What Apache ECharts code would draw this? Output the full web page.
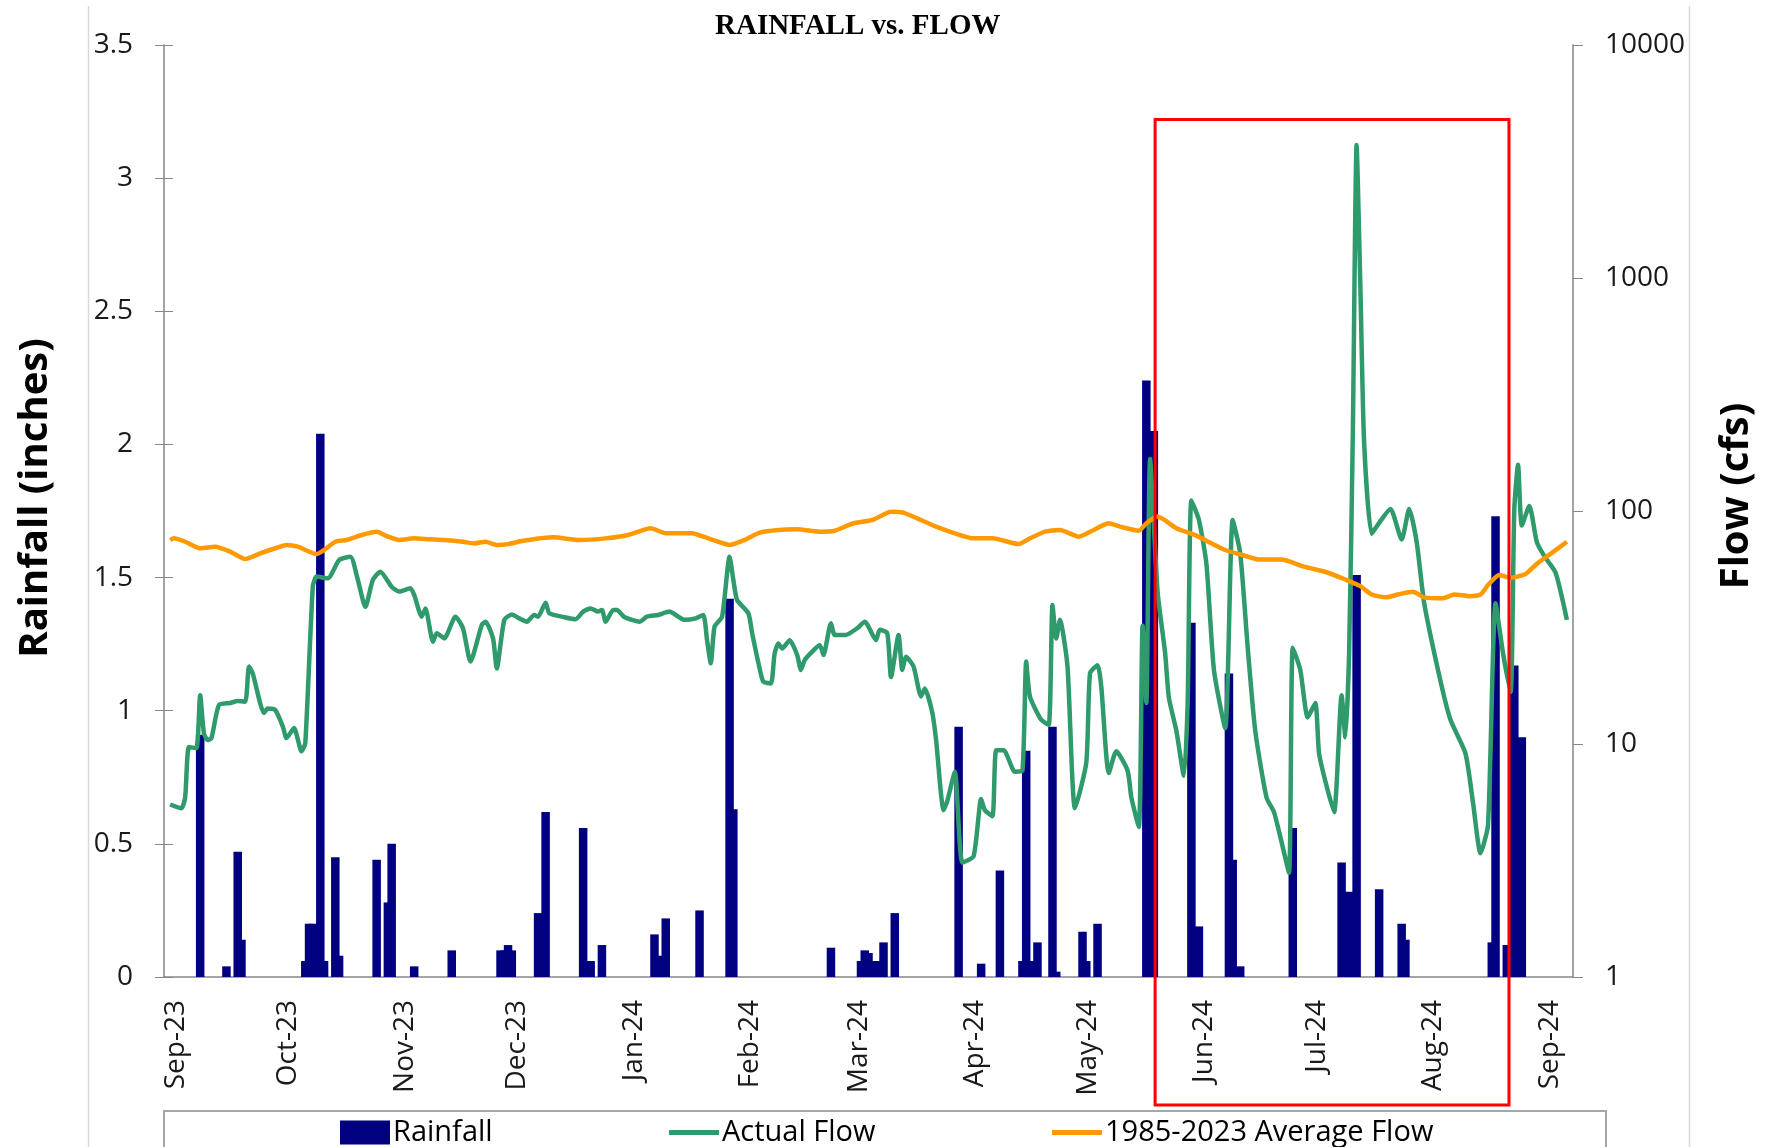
<!DOCTYPE html>
<html>
<head>
<meta charset="utf-8">
<title>Rainfall vs. Flow</title>
<script src="https://cdn.jsdelivr.net/npm/echarts@6/dist/echarts.min.js"></script>
<style>
  html, body { margin: 0; padding: 0; background: #fff; }
  #main { width: 1774px; height: 1147px; }
</style>
</head>
<body>
<div id="main"></div>
<script>
// daily rainfall (inches), only the days with rain
const rainfall = [
    ['2023-09-09', 0.91], ['2023-09-16', 0.04], ['2023-09-19', 0.47], ['2023-09-20', 0.14],
    ['2023-10-07', 0.06], ['2023-10-08', 0.20], ['2023-10-09', 0.20], ['2023-10-11', 2.04],
    ['2023-10-12', 0.06], ['2023-10-15', 0.45], ['2023-10-16', 0.08], ['2023-10-26', 0.44],
    ['2023-10-29', 0.28], ['2023-10-30', 0.50], ['2023-11-05', 0.04], ['2023-11-15', 0.10],
    ['2023-11-28', 0.10], ['2023-11-29', 0.10], ['2023-11-30', 0.12], ['2023-12-01', 0.10],
    ['2023-12-08', 0.24], ['2023-12-10', 0.62], ['2023-12-20', 0.56], ['2023-12-22', 0.06],
    ['2023-12-25', 0.12], ['2024-01-08', 0.16], ['2024-01-10', 0.08], ['2024-01-11', 0.22],
    ['2024-01-20', 0.25], ['2024-01-28', 1.42], ['2024-01-29', 0.63], ['2024-02-24', 0.11],
    ['2024-03-03', 0.06], ['2024-03-04', 0.10], ['2024-03-05', 0.09], ['2024-03-06', 0.06],
    ['2024-03-08', 0.06], ['2024-03-09', 0.13], ['2024-03-12', 0.24], ['2024-03-29', 0.94],
    ['2024-04-04', 0.05], ['2024-04-09', 0.40], ['2024-04-15', 0.06], ['2024-04-16', 0.85],
    ['2024-04-18', 0.06], ['2024-04-19', 0.13], ['2024-04-23', 0.94], ['2024-04-24', 0.02],
    ['2024-05-01', 0.17], ['2024-05-02', 0.06], ['2024-05-05', 0.20], ['2024-05-18', 2.24],
    ['2024-05-20', 2.05], ['2024-05-30', 1.33], ['2024-06-01', 0.19], ['2024-06-09', 1.14],
    ['2024-06-10', 0.44], ['2024-06-12', 0.04], ['2024-06-26', 0.56], ['2024-07-09', 0.43],
    ['2024-07-11', 0.32], ['2024-07-13', 1.51], ['2024-07-19', 0.33], ['2024-07-25', 0.20],
    ['2024-07-26', 0.14], ['2024-08-18', 0.13], ['2024-08-19', 1.73], ['2024-08-22', 0.12],
    ['2024-08-24', 1.17], ['2024-08-26', 0.90]
];

// actual flow (cfs)
const actualFlow = [
    ['2023-09-01', 5.5], ['2023-09-04', 5.3], ['2023-09-05', 5.9], ['2023-09-06', 9.7],
    ['2023-09-08', 9.6], ['2023-09-09', 16.2], ['2023-09-10', 11.1], ['2023-09-11', 10.4],
    ['2023-09-12', 10.6], ['2023-09-14', 14.7], ['2023-09-17', 15.0], ['2023-09-19', 15.3],
    ['2023-09-21', 15.2], ['2023-09-22', 21.5], ['2023-09-23', 20.1], ['2023-09-26', 13.6],
    ['2023-09-27', 14.2], ['2023-09-29', 14.0], ['2023-10-01', 11.9], ['2023-10-02', 10.6],
    ['2023-10-04', 11.7], ['2023-10-06', 9.3], ['2023-10-07', 10.1], ['2023-10-09', 47.3],
    ['2023-10-10', 52.3], ['2023-10-13', 51.4], ['2023-10-16', 61.6], ['2023-10-19', 63.7],
    ['2023-10-21', 50.6], ['2023-10-23', 38.8], ['2023-10-25', 50.6], ['2023-10-27', 54.9],
    ['2023-10-30', 47.3], ['2023-11-01', 45.1], ['2023-11-04', 46.6], ['2023-11-05', 43.6],
    ['2023-11-07', 35.2], ['2023-11-08', 38.2], ['2023-11-10', 27.5], ['2023-11-11', 29.9],
    ['2023-11-13', 28.4], ['2023-11-16', 35.2], ['2023-11-18', 31.4], ['2023-11-20', 22.6],
    ['2023-11-23', 32.4], ['2023-11-24', 33.5], ['2023-11-26', 28.4], ['2023-11-27', 21.1],
    ['2023-11-29', 34.1], ['2023-12-01', 36.0], ['2023-12-03', 34.6], ['2023-12-05', 33.5],
    ['2023-12-07', 35.8], ['2023-12-08', 35.2], ['2023-12-10', 40.4], ['2023-12-11', 36.4],
    ['2023-12-15', 35.0], ['2023-12-18', 34.3], ['2023-12-20', 37.0], ['2023-12-22', 38.2],
    ['2023-12-24', 37.0], ['2023-12-25', 37.6], ['2023-12-26', 33.5], ['2023-12-28', 37.6],
    ['2023-12-29', 37.6], ['2023-12-31', 35.0], ['2024-01-02', 34.1], ['2024-01-04', 33.5],
    ['2024-01-06', 35.2], ['2024-01-09', 35.8], ['2024-01-12', 37.0], ['2024-01-13', 36.4],
    ['2024-01-16', 34.1], ['2024-01-19', 34.6], ['2024-01-21', 35.8], ['2024-01-22', 27.9],
    ['2024-01-23', 22.2], ['2024-01-24', 31.9], ['2024-01-26', 35.2], ['2024-01-28', 63.7],
    ['2024-01-29', 50.6], ['2024-01-30', 41.5], ['2024-02-02', 36.4], ['2024-02-03', 29.9],
    ['2024-02-05', 21.1], ['2024-02-06', 18.5], ['2024-02-08', 18.2], ['2024-02-09', 24.5],
    ['2024-02-10', 27.0], ['2024-02-11', 25.7], ['2024-02-13', 27.9], ['2024-02-15', 24.1],
    ['2024-02-16', 20.8], ['2024-02-17', 22.9], ['2024-02-19', 24.9], ['2024-02-21', 26.6],
    ['2024-02-22', 24.1], ['2024-02-24', 33.0], ['2024-02-25', 29.4], ['2024-02-28', 29.4],
    ['2024-03-02', 31.4], ['2024-03-04', 33.5], ['2024-03-07', 27.9], ['2024-03-08', 30.9],
    ['2024-03-10', 29.9], ['2024-03-11', 19.4], ['2024-03-13', 29.4], ['2024-03-14', 20.8],
    ['2024-03-15', 23.7], ['2024-03-17', 21.5], ['2024-03-19', 16.0], ['2024-03-20', 17.3],
    ['2024-03-22', 13.6], ['2024-03-23', 10.4], ['2024-03-25', 5.2], ['2024-03-26', 5.7],
    ['2024-03-28', 7.6], ['2024-03-30', 3.1], ['2024-04-02', 3.3], ['2024-04-04', 5.8],
    ['2024-04-05', 5.2], ['2024-04-07', 4.9], ['2024-04-08', 9.4], ['2024-04-10', 9.4],
    ['2024-04-13', 7.6], ['2024-04-15', 7.7], ['2024-04-16', 22.6], ['2024-04-17', 16.0],
    ['2024-04-20', 12.7], ['2024-04-22', 12.1], ['2024-04-23', 39.5], ['2024-04-24', 28.4],
    ['2024-04-25', 34.1], ['2024-04-27', 21.5], ['2024-04-29', 5.3], ['2024-05-02', 8.3],
    ['2024-05-03', 20.1], ['2024-05-05', 21.8], ['2024-05-06', 17.6], ['2024-05-08', 7.5],
    ['2024-05-10', 9.3], ['2024-05-13', 7.7], ['2024-05-14', 5.9], ['2024-05-16', 4.4],
    ['2024-05-17', 32.2], ['2024-05-18', 15.0], ['2024-05-19', 167], ['2024-05-21', 44.9],
    ['2024-05-23', 24.6], ['2024-05-24', 15.8], ['2024-05-26', 11.4], ['2024-05-28', 7.3],
    ['2024-05-29', 15.0], ['2024-05-30', 111], ['2024-06-01', 91.5], ['2024-06-03', 59.3],
    ['2024-06-05', 20.8], ['2024-06-08', 11.7], ['2024-06-10', 91.5], ['2024-06-12', 65.8],
    ['2024-06-14', 25.9], ['2024-06-16', 11.4], ['2024-06-19', 5.9], ['2024-06-21', 5.1],
    ['2024-06-23', 3.8], ['2024-06-25', 2.8], ['2024-06-26', 25.9], ['2024-06-28', 20.8],
    ['2024-06-30', 13.0], ['2024-07-02', 15.0], ['2024-07-03', 9.1], ['2024-07-05', 6.6],
    ['2024-07-07', 5.1], ['2024-07-09', 16.2], ['2024-07-10', 10.7], ['2024-07-11', 24.5],
    ['2024-07-12', 220], ['2024-07-13', 3724], ['2024-07-14', 918], ['2024-07-15', 197],
    ['2024-07-17', 79.8], ['2024-07-19', 89.0], ['2024-07-22', 102], ['2024-07-25', 75.5],
    ['2024-07-27', 102], ['2024-07-29', 73.5], ['2024-07-31', 40.2], ['2024-08-04', 19.7],
    ['2024-08-07', 12.7], ['2024-08-11', 9.1], ['2024-08-13', 5.6], ['2024-08-15', 3.4],
    ['2024-08-17', 4.5], ['2024-08-19', 40.2], ['2024-08-21', 24.5], ['2024-08-23', 16.7],
    ['2024-08-24', 102], ['2024-08-25', 158], ['2024-08-26', 86.6], ['2024-08-28', 105],
    ['2024-08-30', 73.5], ['2024-09-01', 64.0], ['2024-09-04', 54.3], ['2024-09-07', 34.1]
];

// 1985-2023 average flow (cfs)
const averageFlow = [
    ['2023-09-01', 75.1], ['2023-09-02', 76.3], ['2023-09-05', 73.8], ['2023-09-09', 69.2],
    ['2023-09-13', 70.3], ['2023-09-17', 66.9], ['2023-09-21', 62.2], ['2023-09-25', 65.8],
    ['2023-09-29', 69.2], ['2023-10-02', 71.5], ['2023-10-05', 70.3], ['2023-10-08', 66.9],
    ['2023-10-10', 65.3], ['2023-10-12', 68.0], ['2023-10-15', 73.8], ['2023-10-18', 75.1],
    ['2023-10-22', 78.9], ['2023-10-26', 81.5], ['2023-10-29', 77.6], ['2023-11-01', 75.1],
    ['2023-11-05', 76.3], ['2023-11-09', 75.6], ['2023-11-13', 75.1], ['2023-11-18', 73.8],
    ['2023-11-21', 72.6], ['2023-11-24', 73.8], ['2023-11-27', 71.5], ['2023-11-30', 72.1],
    ['2023-12-04', 74.5], ['2023-12-12', 77.1], ['2023-12-19', 75.1], ['2023-12-26', 76.3],
    ['2024-01-01', 78.9], ['2024-01-07', 84.3], ['2024-01-11', 80.2], ['2024-01-18', 80.2],
    ['2024-01-21', 77.6], ['2024-01-25', 73.8], ['2024-01-28', 71.5], ['2024-02-01', 75.1],
    ['2024-02-05', 80.7], ['2024-02-10', 82.9], ['2024-02-15', 83.4], ['2024-02-21', 81.5],
    ['2024-02-25', 82.3], ['2024-03-01', 88.6], ['2024-03-06', 91.5], ['2024-03-11', 99.3],
    ['2024-03-14', 98.7], ['2024-03-18', 93.0], ['2024-03-23', 85.7], ['2024-03-28', 80.2],
    ['2024-04-02', 76.3], ['2024-04-07', 76.3], ['2024-04-14', 72.1], ['2024-04-17', 76.3],
    ['2024-04-21', 81.5], ['2024-04-25', 82.9], ['2024-04-30', 77.6], ['2024-05-04', 82.9],
    ['2024-05-08', 88.6], ['2024-05-11', 85.7], ['2024-05-16', 82.3], ['2024-05-18', 88.6],
    ['2024-05-21', 94.6], ['2024-05-26', 84.3], ['2024-05-31', 78.8], ['2024-06-03', 74.6],
    ['2024-06-08', 68.0], ['2024-06-13', 64.4], ['2024-06-17', 61.9], ['2024-06-23', 61.9],
    ['2024-06-29', 57.7], ['2024-07-05', 54.6], ['2024-07-10', 50.8], ['2024-07-14', 47.6],
    ['2024-07-17', 43.8], ['2024-07-21', 42.6], ['2024-07-24', 43.8], ['2024-07-28', 45.0],
    ['2024-07-31', 42.6], ['2024-08-05', 42.2], ['2024-08-08', 43.8], ['2024-08-12', 43.1],
    ['2024-08-15', 43.8], ['2024-08-17', 48.1], ['2024-08-20', 53.1], ['2024-08-23', 51.7],
    ['2024-08-27', 53.7], ['2024-08-30', 59.3], ['2024-09-03', 66.1], ['2024-09-07', 73.8]
];

const monthNames = ['Jan', 'Feb', 'Mar', 'Apr', 'May', 'Jun', 'Jul', 'Aug', 'Sep', 'Oct', 'Nov', 'Dec'];

// red highlight box (Jun - Aug)
const boxFrom = '2024-05-20T08:00:00';
const boxTo = '2024-08-22T14:00:00';
const boxTopInches = 3.22;

const FONT = "'Open Sans', 'Noto Sans', sans-serif";
const DAY = 24 * 3600 * 1000;
const AXIS_GREY = '#868686';

var chart = echarts.init(document.getElementById('main'));

var legendBase = {
    top: 1118,
    padding: 0,
    itemWidth: 50,
    itemHeight: 24,
    selectedMode: false,
    textStyle: { fontFamily: FONT, fontSize: 29, color: '#000', padding: [0, 0, 0, -2] }
};

var option = {
    backgroundColor: '#ffffff',
    animation: false,
    title: {
        text: 'RAINFALL vs. FLOW',
        left: 710,
        top: 7,
        textStyle: {
            fontFamily: "'Liberation Serif', 'Times New Roman', serif",
            fontWeight: 'bold',
            fontSize: 29,
            color: '#000'
        }
    },
    grid: {
        left: 164, right: 201, top: 45, bottom: 170,
        containLabel: false,
        outerBoundsMode: 'none'
    },
    legend: [
        Object.assign({}, legendBase, { data: [{ name: 'Rainfall', icon: 'rect' }], left: 340 }),
        Object.assign({}, legendBase, { data: [{ name: 'Actual Flow', icon: 'rect' }], left: 669, itemHeight: 5 }),
        Object.assign({}, legendBase, { data: [{ name: '1985-2023 Average Flow', icon: 'rect' }], left: 1052, itemHeight: 5 })
    ],
    xAxis: {
        type: 'time',
        min: '2023-08-31T12:00:00',
        max: '2024-09-07T12:00:00',
        splitNumber: 12,
        minInterval: 28 * DAY,
        maxInterval: 31 * DAY,
        axisLine: { lineStyle: { color: AXIS_GREY, width: 1.5 } },
        axisTick: { show: false },
        splitLine: { show: false },
        axisLabel: {
            rotate: 90,
            margin: 23,
            interval: 0,
            hideOverlap: false,
            padding: [11, 0, 0, 0],
            fontFamily: FONT,
            fontSize: 28,
            color: '#1a1a1a',
            formatter: function (val) {
                var d = new Date(val);
                return monthNames[d.getMonth()] + '-' + String(d.getFullYear()).slice(2);
            }
        }
    },
    yAxis: [
        {
            type: 'value',
            min: 0,
            max: 3.5,
            interval: 0.5,
            name: 'Rainfall (inches)',
            nameLocation: 'middle',
            nameGap: 108,
            nameTextStyle: {
                fontFamily: FONT, fontWeight: 'bold', fontSize: 40, color: '#000',
                padding: [0, 0, 0, 26]
            },
            axisLine: { show: true, lineStyle: { color: AXIS_GREY, width: 1.5 } },
            axisTick: { show: true, length: 9, lineStyle: { color: AXIS_GREY } },
            splitLine: { show: false },
            axisLabel: { margin: 31, fontFamily: FONT, fontSize: 28, color: '#1a1a1a' }
        },
        {
            type: 'log',
            logBase: 10,
            min: 1,
            max: 10000,
            name: 'Flow (cfs)',
            nameLocation: 'middle',
            nameGap: 144,
            nameRotate: 90,
            nameTextStyle: {
                fontFamily: FONT, fontWeight: 'bold', fontSize: 40, color: '#000',
                padding: [0, 0, 0, 30]
            },
            axisLine: { show: true, lineStyle: { color: AXIS_GREY, width: 1.5 } },
            axisTick: { show: true, length: 10, lineStyle: { color: AXIS_GREY } },
            splitLine: { show: false },
            axisLabel: {
                margin: 32,
                fontFamily: FONT,
                fontSize: 28,
                color: '#1a1a1a',
                formatter: function (v) { return String(v); }
            }
        },
        {
            // inner half of the crossing ticks on the rainfall axis
            type: 'value',
            position: 'left',
            min: 0,
            max: 3.5,
            interval: 0.5,
            axisLine: { show: false },
            axisTick: { show: true, inside: true, length: 9, lineStyle: { color: AXIS_GREY } },
            axisLabel: { show: false },
            splitLine: { show: false }
        }
    ],
    series: [
        {
            name: 'Rainfall',
            type: 'bar',
            yAxisIndex: 0,
            barWidth: 8.5,
            itemStyle: { color: '#000080' },
            data: rainfall,
            z: 2
        },
        {
            name: 'Actual Flow',
            type: 'line',
            yAxisIndex: 1,
            symbol: 'none',
            smooth: 0.2,
            lineStyle: { color: '#2f9a6c', width: 4.5 },
            itemStyle: { color: '#2f9a6c' },
            data: actualFlow,
            z: 3
        },
        {
            name: '1985-2023 Average Flow',
            type: 'line',
            yAxisIndex: 1,
            symbol: 'none',
            smooth: 0.2,
            lineStyle: { color: '#ff9900', width: 4.5 },
            itemStyle: { color: '#ff9900' },
            data: averageFlow,
            z: 4
        }
    ]
};

chart.setOption(option);

// frame, legend box and the red highlight box
var p1 = chart.convertToPixel({ xAxisIndex: 0, yAxisIndex: 0 }, [boxFrom, boxTopInches]);
var p2 = chart.convertToPixel({ xAxisIndex: 0, yAxisIndex: 0 }, [boxTo, 0]);
var boxBottom = p2[1] + 128;

chart.setOption({
    graphic: [
        { type: 'line', shape: { x1: 88.5, y1: 6, x2: 88.5, y2: 1147 }, style: { stroke: '#d9d9d9', lineWidth: 1.5 }, silent: true },
        { type: 'line', shape: { x1: 1689.5, y1: 6, x2: 1689.5, y2: 1147 }, style: { stroke: '#d9d9d9', lineWidth: 1.5 }, silent: true },
        { type: 'rect', shape: { x: 164, y: 1111, width: 1442, height: 60 }, style: { fill: 'none', stroke: '#a6a6a6', lineWidth: 2 }, silent: true, z: -1 },
        {
            type: 'rect',
            shape: { x: p1[0], y: p1[1], width: p2[0] - p1[0], height: boxBottom - p1[1] },
            style: { fill: 'none', stroke: '#ff0000', lineWidth: 3 },
            silent: true,
            z: 100
        }
    ]
});
</script>
</body>
</html>
